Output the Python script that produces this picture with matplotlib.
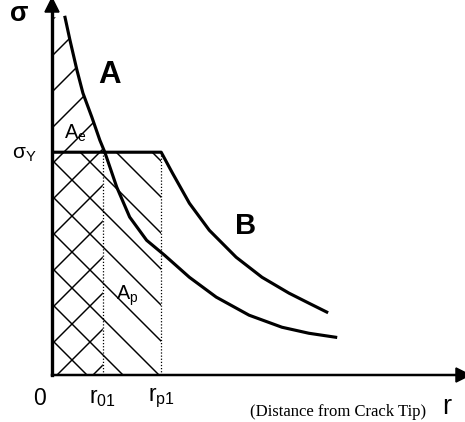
import numpy as np
import matplotlib.pyplot as plt

# values (sigma_Y = 1, r_01 = 1)
sigma_y = 1.0
r01 = 1.0
rp1 = 2.15

# curve A (elastic stress field)
a_r = [0.255, 0.353, 0.49, 0.608, 0.784, 0.941, 1.039, 1.275, 1.529, 1.863,
       2.216, 2.706, 3.235, 3.882, 4.529, 5.059, 5.588]
a_s = [1.605, 1.502, 1.368, 1.265, 1.157, 1.054, 1.0, 0.843, 0.709, 0.605,
       0.538, 0.439, 0.35, 0.269, 0.215, 0.188, 0.17]

# curve B (after yielding)
b_r = [2.15, 2.373, 2.706, 3.098, 3.627, 4.137, 4.667, 5.059, 5.412]
b_s = [1.0, 0.906, 0.771, 0.65, 0.529, 0.439, 0.368, 0.323, 0.283]

DPI = 108
k = 150 / DPI  # sizes below were tuned at 150 dpi

plt.rcParams['font.family'] = ['Liberation Sans', 'DejaVu Sans']
plt.rcParams['hatch.linewidth'] = 0.7 * k

fig = plt.figure(figsize=(465 / DPI, 422 / DPI), dpi=DPI)
ax = fig.add_axes([0.112, 0.111, 0.884, 0.877])
ax.set_xlim(0, 8.1)
ax.set_ylim(0, 1.66)

# hatched areas
xa = np.array([0] + [r for r in a_r if r < r01] + [r01])
ya = np.array([a_s[0]] + [s for r, s in zip(a_r, a_s) if r < r01] + [np.interp(r01, a_r, a_s)])
ax.fill_between(xa, 0, ya, facecolor='none', edgecolor='k', hatch='/', linewidth=0)
ax.fill_between([0, rp1], 0, sigma_y, facecolor='none', edgecolor='k', hatch='\\', linewidth=0)

# curves
ax.plot(a_r, a_s, color='k', lw=1.5 * k, solid_joinstyle='round')
ax.plot([0] + b_r, [sigma_y] + b_s, color='k', lw=1.5 * k, solid_joinstyle='round')
ax.plot([r01, r01], [0, sigma_y], color='k', lw=0.6 * k, ls=(0, (1, 1.5)))
ax.plot([rp1, rp1], [0, sigma_y], color='k', lw=0.6 * k, ls=(0, (1, 1.5)))

# axes with arrows
for s in ['top', 'right']:
    ax.spines[s].set_visible(False)
ax.spines['left'].set_linewidth(1.6 * k)
ax.spines['bottom'].set_linewidth(1.2 * k)
ax.set_xticks([])
ax.set_yticks([])
ax.plot(1, 0, '>k', ms=7 * k, transform=ax.transAxes, clip_on=False)
ax.plot(0, 1, '^k', ms=7 * k, transform=ax.transAxes, clip_on=False)

# labels
ax.text(-0.65, 1.62, 'σ', fontsize=13 * k, fontweight='bold', ha='center', va='center')
ax.text(1.14, 1.345, 'A', fontsize=15 * k, fontweight='bold', ha='center', va='center')
ax.text(3.82, 0.67, 'B', fontsize=14 * k, fontweight='bold', ha='center', va='center')
ax.text(0.46, 1.085, 'A$_\\mathregular{e}$', fontsize=9.5 * k, ha='center', va='center')
ax.text(1.49, 0.354, 'A$_\\mathregular{p}$', fontsize=9.5 * k, ha='center', va='center')
ax.text(-0.55, 0.99, 'σ$_\\mathregular{Y}$', fontsize=10 * k, ha='center', va='center')
ax.text(-0.24, -0.103, '0', fontsize=11 * k, ha='center', va='center')
ax.text(r01, -0.1, 'r$_\\mathregular{01}$', fontsize=11 * k, ha='center', va='center')
ax.text(rp1, -0.1, 'r$_\\mathregular{p1}$', fontsize=11 * k, ha='center', va='center')
ax.text(5.63, -0.166, '(Distance from Crack Tip)', fontsize=8.0 * k, family='Liberation Serif',
        ha='center', va='center')
ax.text(7.78, -0.143, 'r', fontsize=13 * k, ha='center', va='center')

fig.savefig('out.png', dpi=DPI)
